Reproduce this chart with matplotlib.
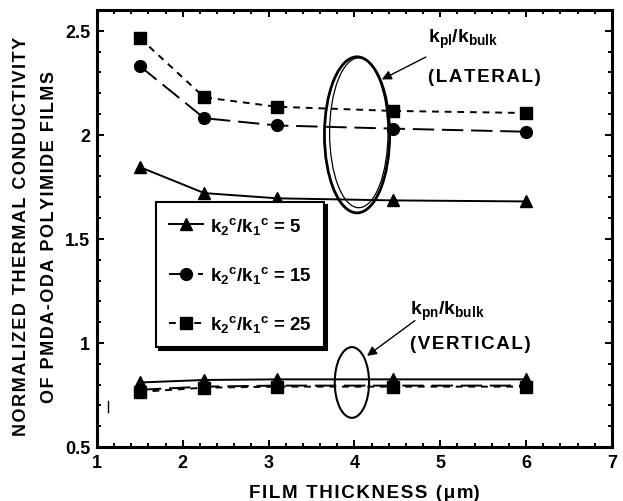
import numpy as np
import matplotlib
matplotlib.use("Agg")
import matplotlib.pyplot as plt
from matplotlib.patches import Ellipse
from matplotlib.ticker import MultipleLocator, FormatStrFormatter

plt.rcParams["font.family"] = ["Liberation Sans", "DejaVu Sans"]
plt.rcParams["font.weight"] = "bold"
plt.rcParams["axes.labelweight"] = "bold"
plt.rcParams["mathtext.fontset"] = "custom"
plt.rcParams["mathtext.rm"] = "Liberation Sans:bold"
plt.rcParams["mathtext.it"] = "Liberation Sans:bold"
plt.rcParams["mathtext.bf"] = "Liberation Sans:bold"
plt.rcParams["mathtext.default"] = "rm"

# film thickness (um)
thickness = [1.5, 2.25, 3.1, 4.45, 6.0]

# lateral k_pl / k_bulk
lat_5 = [1.845, 1.72, 1.695, 1.685, 1.68]
lat_15 = [2.33, 2.08, 2.045, 2.03, 2.015]
lat_25 = [2.465, 2.18, 2.135, 2.115, 2.105]

# vertical k_pn / k_bulk
ver_5 = [0.81, 0.822, 0.825, 0.825, 0.825]
ver_15 = [0.775, 0.79, 0.795, 0.795, 0.795]
ver_25 = [0.765, 0.785, 0.79, 0.79, 0.79]

labels = [r"k$_{2}{}^{c}$/k$_{1}{}^{c}$ = 5",
          r"k$_{2}{}^{c}$/k$_{1}{}^{c}$ = 15",
          r"k$_{2}{}^{c}$/k$_{1}{}^{c}$ = 25"]

HS = "\u200a"


def spaced(s, sep=HS):
    return sep.join(s)


fig = plt.figure(figsize=(6.23, 5.02), dpi=100)
ax = fig.add_axes([0.1557, 0.1076, 0.8266, 0.8705])

styles = [
    dict(marker="^", dashes=()),
    dict(marker="o", dashes=(11, 4)),
    dict(marker="s", dashes=(3.5, 3)),
]
lateral = [lat_5, lat_15, lat_25]
vertical = [ver_5, ver_15, ver_25]

handles = []
for i in range(3):
    st = styles[i]
    kw = dict(color="black", marker=st["marker"], markersize=8.5, linewidth=1.4)
    if st["dashes"]:
        kw["dashes"] = st["dashes"]
    h, = ax.plot(thickness, lateral[i], label=labels[i], **kw)
    ax.plot(thickness, vertical[i], **kw)
    handles.append(h)

# annotation ellipses
ax.add_patch(Ellipse((4.03, 2.0), 0.76, 0.75, fill=False, ec="black", lw=2.0))
ax.add_patch(Ellipse((4.05, 2.01), 0.68, 0.72, fill=False, ec="black", lw=0.9))
ax.add_patch(Ellipse((3.97, 0.81), 0.4, 0.34, fill=False, ec="black", lw=1.5))

ax.annotate("", xy=(4.29, 2.26), xytext=(4.86, 2.38),
            arrowprops=dict(arrowstyle="-|>", color="black", lw=1.0,
                            mutation_scale=14))
ax.annotate("", xy=(4.12, 0.93), xytext=(4.73, 1.115),
            arrowprops=dict(arrowstyle="-|>", color="black", lw=1.0,
                            mutation_scale=14))

ax.text(4.86, 2.465, r"k$_{pl}$/k$_{bulk}$", fontsize=14, ha="left", va="center")
ax.text(4.86, 2.28, spaced("(LATERAL)"), fontsize=13.5, ha="left", va="center")
ax.text(4.65, 1.155, r"k$_{pn}$/k$_{bulk}$", fontsize=14, ha="left", va="center")
ax.text(4.65, 0.995, spaced("(VERTICAL)"), fontsize=13.5, ha="left", va="center")

# stray scan mark
ax.plot([1.13, 1.13], [0.67, 0.72], color="black", lw=1.0)

ax.set_xlim(1, 7)
ax.set_ylim(0.5, 2.6)
ax.xaxis.set_major_locator(MultipleLocator(1))
ax.xaxis.set_minor_locator(MultipleLocator(0.2))
ax.yaxis.set_major_locator(MultipleLocator(0.5))
ax.yaxis.set_minor_locator(MultipleLocator(0.1))
ax.yaxis.set_major_formatter(FormatStrFormatter("%g"))
ax.tick_params(which="both", direction="in", top=True, right=True,
               labelsize=13, width=1.4)
ax.tick_params(which="major", length=5, pad=5)
ax.tick_params(which="minor", length=3)
for sp in ax.spines.values():
    sp.set_linewidth(2.2)

ax.set_xlabel(spaced("FILM THICKNESS (") + HS + "\u03bc" + HS + "m)", fontsize=13.5)
ax.xaxis.set_label_coords(0.52, -0.085)
ax.set_ylabel(spaced("NORMALIZED THERMAL CONDUCTIVITY") + "\n"
              + spaced("OF PMDA-ODA POLYIMIDE FILMS"), fontsize=13,
              linespacing=1.8)
ax.yaxis.set_label_coords(-0.076, 0.483)

leg = ax.legend(handles=handles, loc="upper left", bbox_to_anchor=(0.115, 0.561),
                borderaxespad=0, fontsize=13.5, handlelength=1.8,
                handletextpad=0.35, labelspacing=1.5, borderpad=0.7,
                fancybox=False, shadow={"color": "black", "alpha": 1.0},
                framealpha=1)
leg.get_frame().set_edgecolor("black")
leg.get_frame().set_linewidth(1.5)

fig.savefig("out.png", dpi=100)
